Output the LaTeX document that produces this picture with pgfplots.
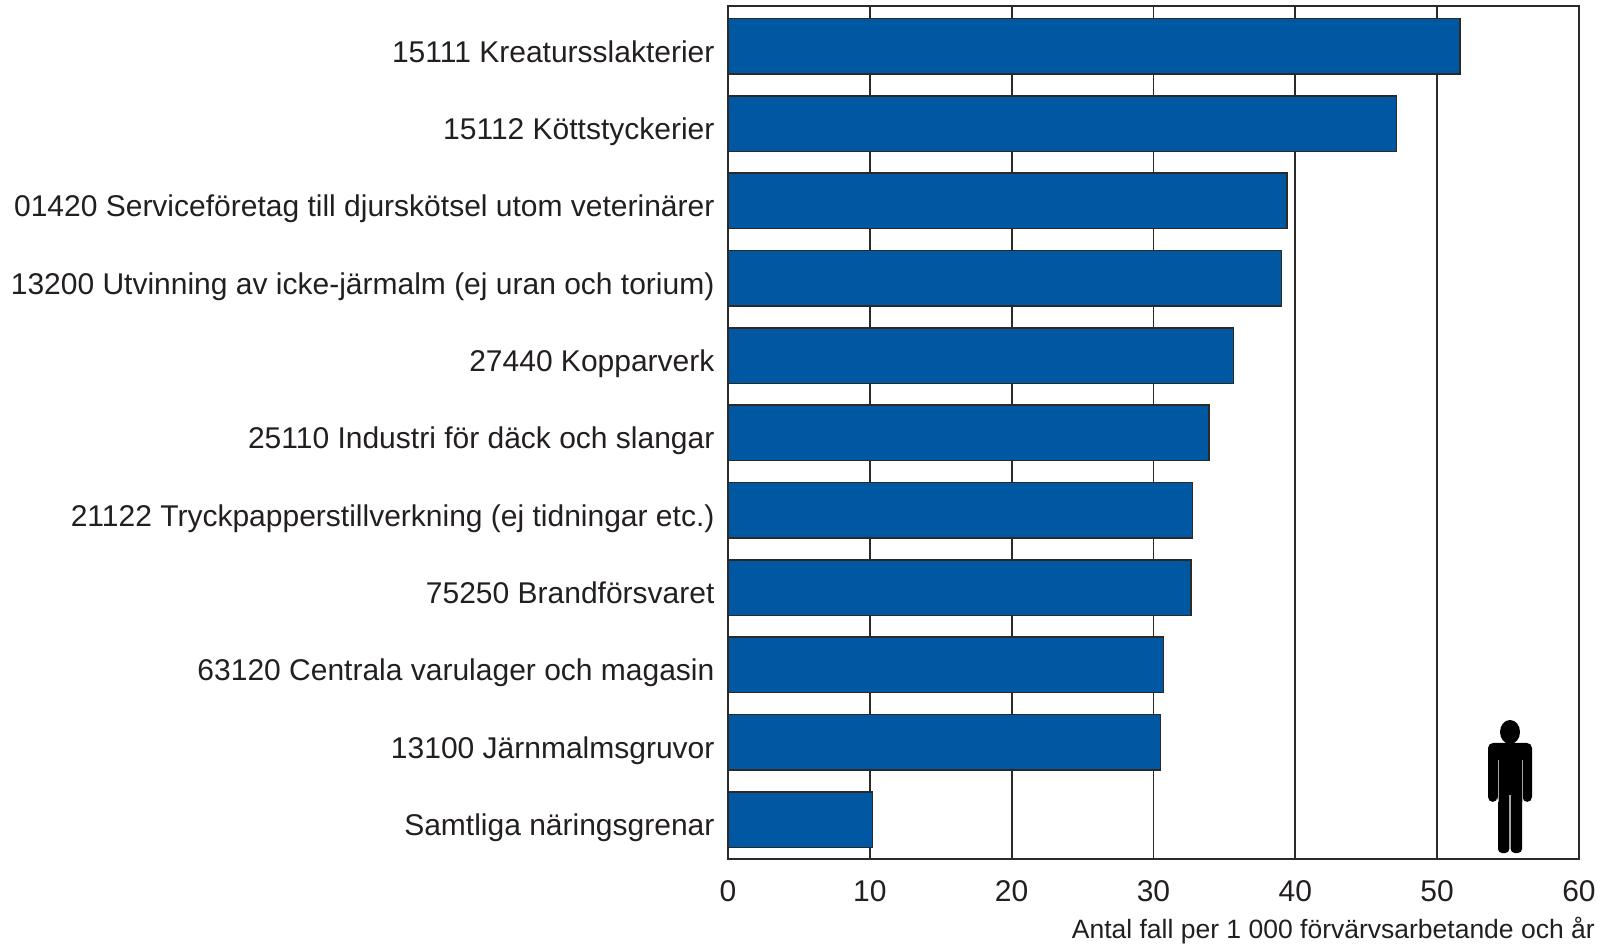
\documentclass[border=0pt]{standalone}
\usepackage{pgfplots}
\pgfplotsset{compat=1.18}
\usepackage{fontspec}
\setmainfont{Liberation Sans}
\definecolor{barblue}{HTML}{0058A3}
\definecolor{ink}{HTML}{2B2A29}
\definecolor{txt}{HTML}{231F20}
\begin{document}
\begin{tikzpicture}[x=1pt,y=1pt]
\path[use as bounding box] (-728,-86) rectangle (881,859);
\begin{axis}[
  at={(0,0)},anchor=south west,
  scale only axis,width=851pt,height=853pt,
  xmin=0,xmax=60,ymin=-0.521,ymax=10.51,
  y dir=reverse,
  xbar,bar width=55.5pt,bar shift=0pt,
  xtick={0,10,...,60},
  ytick={0,...,10},
  yticklabels={15111 Kreatursslakterier,15112 Köttstyckerier,01420 Serviceföretag till djurskötsel utom veterinärer,13200 Utvinning av icke-järmalm (ej uran och torium),27440 Kopparverk,25110 Industri för däck och slangar,21122 Tryckpapperstillverkning (ej tidningar etc.),75250 Brandförsvaret,63120 Centrala varulager och magasin,13100 Järnmalmsgruvor,Samtliga näringsgrenar},
  major tick length=0pt,
  xmajorgrids,
  grid style={ink,line width=1.7pt},
  axis line style={ink,line width=1.7pt},
  /pgf/number format/assume math mode=true,
  xticklabel style={font=\fontsize{30}{36}\selectfont,text=txt,yshift=-18pt},
  yticklabel style={font=\fontsize{30}{36}\selectfont,text=txt,anchor=base east,xshift=-10pt,yshift=-16pt},
  clip=false,
]
\addplot[fill=barblue,draw=ink,line width=1.5pt] coordinates {
(51.62,0) (47.13,1) (39.40,2) (39.03,3) (35.63,4) (33.90,5) (32.74,6) (32.63,7) (30.71,8) (30.50,9) (10.20,10)};
\end{axis}
\node[anchor=base east,inner sep=0pt,text=txt,font=\fontsize{26.5}{30}\selectfont] at (867,-79) {Antal fall per 1 000 förvärvsarbetande och år};
% person icon (decoration)
\begin{scope}[shift={(0,859)},yscale=-1]
\fill[black] (782,732) ellipse [x radius=10,y radius=12];
\fill[black,rounded corners=5pt] (760,802) -- (760,743) -- (804,743) -- (804,802) -- (794.5,802) -- (794.5,795) -- (769.5,795) -- (769.5,802) -- cycle;
\fill[black,rounded corners=4pt] (770,780) -- (770,853) -- (781.3,853) -- (781.3,780) -- cycle;
\fill[black,rounded corners=4pt] (782.7,780) -- (782.7,853) -- (794,853) -- (794,780) -- cycle;
\draw[white!65!black,line width=0.7pt] (770,760) -- (770,802) (794,760) -- (794,802);
\end{scope}
\end{tikzpicture}
\end{document}
